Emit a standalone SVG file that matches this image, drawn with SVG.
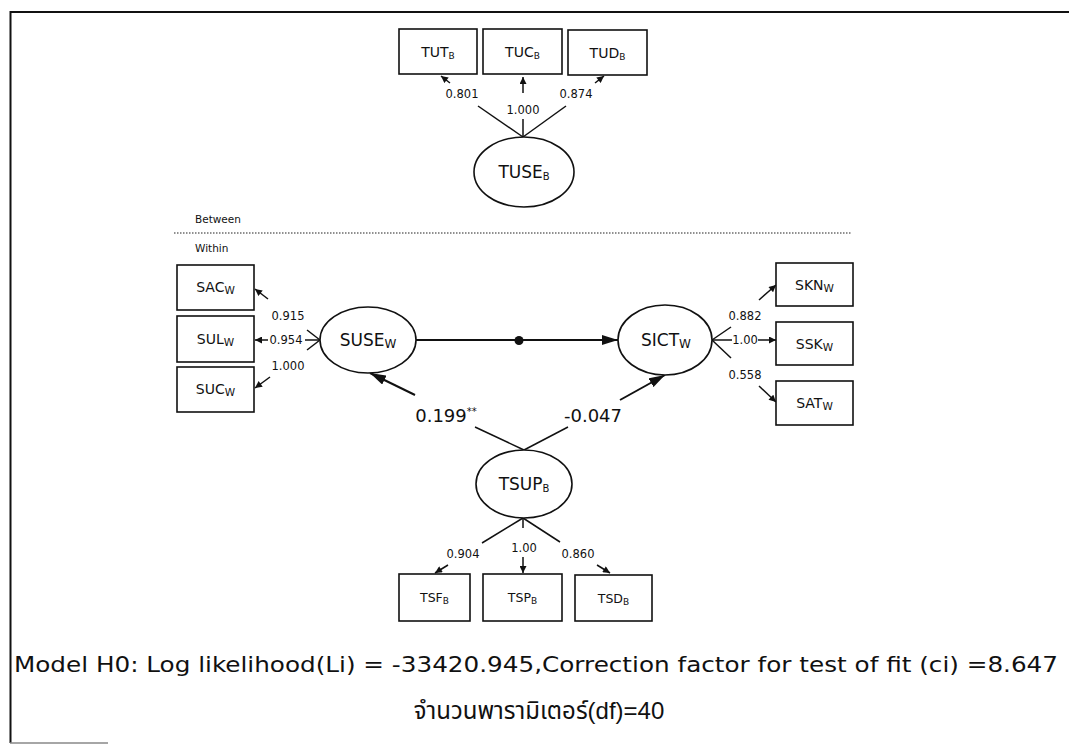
<svg xmlns="http://www.w3.org/2000/svg" width="1069" height="744" viewBox="0 0 1069 744">
  <style>
    text { font-family: "DejaVu Sans", "Liberation Sans", sans-serif; fill: #111; }
    .box { fill: #fff; stroke: #111; stroke-width: 1.6; }
    .lv { fill: #fff; stroke: #111; stroke-width: 1.6; }
    .bl { font-size: 14px; text-anchor: middle; }
    .bls { font-size: 12.5px; text-anchor: middle; }
    .el { font-size: 17px; text-anchor: middle; }
    .ld { font-size: 11.5px; text-anchor: middle; }
    .pl { font-size: 18px; text-anchor: middle; }
    .sub { font-size: 9px; }
    .subw { font-size: 10.5px; }
    .ln { stroke: #111; stroke-width: 1.5; fill: none; }
    .sa { stroke: #111; stroke-width: 1.5; fill: none; marker-end: url(#sm); }
    .ba { stroke: #111; stroke-width: 2; fill: none; marker-end: url(#lg); }
  </style>
  <defs>
    <marker id="sm" viewBox="0 0 10 10" refX="10" refY="5" markerWidth="8" markerHeight="7" markerUnits="userSpaceOnUse" orient="auto">
      <path d="M0,0 L10,5 L0,10 z" fill="#111"/>
    </marker>
    <marker id="lg" viewBox="0 0 16 10" refX="16" refY="5" markerWidth="16" markerHeight="10" markerUnits="userSpaceOnUse" orient="auto">
      <path d="M0,0 L16,5 L0,10 z" fill="#111"/>
    </marker>
  </defs>

  <rect width="1069" height="744" fill="#fff"/>

  <!-- frame -->
  <g id="frame">
    <path d="M10.5,743 L10.5,12 L1069,12" fill="none" stroke="#111" stroke-width="2"/>
    <line x1="10" y1="743" x2="108" y2="743" stroke="#888" stroke-width="1.5"/>
  </g>

  <!-- level divider -->
  <g id="levels">
    <text x="195" y="223" font-size="10.5px">Between</text>
    <line x1="174" y1="233" x2="852" y2="233" stroke="#222" stroke-width="1.2" stroke-dasharray="1.5 1.5"/>
    <text x="195" y="252" font-size="10.5px">Within</text>
  </g>

  <!-- connectors -->
  <g id="connectors">
    <!-- TUSE_B loadings -->
    <line class="ln" x1="523" y1="137" x2="478" y2="106"/>
    <line class="sa" x1="450" y1="83" x2="441" y2="76"/>
    <line class="ln" x1="523" y1="137" x2="523" y2="119"/>
    <line class="sa" x1="523" y1="93" x2="523" y2="77"/>
    <line class="ln" x1="523" y1="137" x2="566" y2="106"/>
    <line class="sa" x1="595" y1="83" x2="604" y2="76"/>

    <!-- SUSE_W loadings -->
    <line class="ln" x1="320" y1="340" x2="307" y2="330"/>
    <line class="sa" x1="268" y1="299" x2="255" y2="289"/>
    <line class="ln" x1="320" y1="340" x2="305" y2="340"/>
    <line class="sa" x1="268" y1="340" x2="255" y2="340"/>
    <line class="ln" x1="320" y1="340" x2="307" y2="350"/>
    <line class="sa" x1="270" y1="377" x2="255" y2="388"/>

    <!-- SUSE_W -> SICT_W -->
    <line class="ba" x1="416" y1="340" x2="618" y2="340"/>
    <circle cx="519" cy="340.5" r="4.5" fill="#111"/>

    <!-- SICT_W loadings -->
    <line class="ln" x1="712" y1="340" x2="731" y2="327"/>
    <line class="sa" x1="759" y1="300" x2="776" y2="285"/>
    <line class="ln" x1="712" y1="340" x2="732" y2="340"/>
    <line class="sa" x1="758" y1="340" x2="776" y2="340"/>
    <line class="ln" x1="712" y1="340" x2="731" y2="358"/>
    <line class="sa" x1="759" y1="386" x2="776" y2="402"/>

    <!-- TSUP_B structural paths -->
    <line class="ln" x1="524" y1="450" x2="475" y2="427"/>
    <line class="ba" x1="415" y1="395" x2="370" y2="373"/>
    <line class="ln" x1="524" y1="450" x2="568" y2="427"/>
    <line class="ba" x1="620" y1="400" x2="665" y2="375"/>

    <!-- TSUP_B loadings -->
    <line class="ln" x1="523" y1="518" x2="482" y2="543"/>
    <line class="sa" x1="448" y1="565" x2="435" y2="573"/>
    <line class="ln" x1="523" y1="518" x2="523" y2="528"/>
    <line class="sa" x1="523" y1="557" x2="523" y2="573"/>
    <line class="ln" x1="523" y1="518" x2="560" y2="542"/>
    <line class="sa" x1="597" y1="565" x2="610" y2="573"/>
  </g>

  <!-- path coefficients -->
  <g id="labels">
    <text class="ld" x="462" y="98">0.801</text>
    <text class="ld" x="523" y="114">1.000</text>
    <text class="ld" x="576" y="98">0.874</text>

    <text class="ld" x="288" y="320">0.915</text>
    <text class="ld" x="286" y="344">0.954</text>
    <text class="ld" x="288" y="370">1.000</text>

    <text class="ld" x="745" y="320">0.882</text>
    <text class="ld" x="745" y="344">1.00</text>
    <text class="ld" x="745" y="379">0.558</text>

    <text class="pl" x="446" y="422">0.199<tspan font-size="10px" dy="-7">**</tspan></text>
    <text class="pl" x="593" y="422">-0.047</text>

    <text class="ld" x="463" y="558">0.904</text>
    <text class="ld" x="524" y="552">1.00</text>
    <text class="ld" x="578" y="558">0.860</text>
  </g>

  <!-- between-level indicators -->
  <g id="TUT_B"><rect class="box" x="399" y="29" width="78" height="45"/><text class="bl" x="438" y="57">TUT<tspan class="sub" dy="1.5">B</tspan></text></g>
  <g id="TUC_B"><rect class="box" x="483" y="29" width="79" height="45"/><text class="bl" x="522.5" y="57">TUC<tspan class="sub" dy="1.5">B</tspan></text></g>
  <g id="TUD_B"><rect class="box" x="568" y="30" width="79" height="45"/><text class="bl" x="607.5" y="58">TUD<tspan class="sub" dy="1.5">B</tspan></text></g>
  <g id="TUSE_B"><ellipse class="lv" cx="524" cy="172" rx="50" ry="35"/><text class="el" x="524" y="178">TUSE<tspan font-size="10px" dy="1.5">B</tspan></text></g>

  <!-- within-level student use -->
  <g id="SAC_W"><rect class="box" x="177" y="265" width="77" height="45"/><text class="bl" x="215.5" y="292">SAC<tspan class="subw" dy="1.5">W</tspan></text></g>
  <g id="SUL_W"><rect class="box" x="177" y="316" width="77" height="46"/><text class="bl" x="215.5" y="344">SUL<tspan class="subw" dy="1.5">W</tspan></text></g>
  <g id="SUC_W"><rect class="box" x="177" y="367" width="77" height="45"/><text class="bl" x="215.5" y="394">SUC<tspan class="subw" dy="1.5">W</tspan></text></g>
  <g id="SUSE_W"><ellipse class="lv" cx="368" cy="340" rx="48" ry="33"/><text class="el" x="368" y="346">SUSE<tspan font-size="12px" dy="1.5">W</tspan></text></g>

  <!-- within-level ICT literacy -->
  <g id="SICT_W"><ellipse class="lv" cx="665" cy="340" rx="47" ry="35"/><text class="el" x="666" y="346">SICT<tspan font-size="12px" dy="1.5">W</tspan></text></g>
  <g id="SKN_W"><rect class="box" x="776" y="263" width="77" height="43"/><text class="bl" x="814.5" y="290">SKN<tspan class="subw" dy="1.5">W</tspan></text></g>
  <g id="SSK_W"><rect class="box" x="776" y="322" width="77" height="43"/><text class="bl" x="814.5" y="349">SSK<tspan class="subw" dy="1.5">W</tspan></text></g>
  <g id="SAT_W"><rect class="box" x="776" y="381" width="77" height="44"/><text class="bl" x="814.5" y="408">SAT<tspan class="subw" dy="1.5">W</tspan></text></g>

  <!-- between-level teacher support -->
  <g id="TSUP_B"><ellipse class="lv" cx="524" cy="484" rx="48" ry="34"/><text class="el" x="524" y="490">TSUP<tspan font-size="10px" dy="1.5">B</tspan></text></g>
  <g id="TSF_B"><rect class="box" x="399" y="574" width="71" height="47"/><text class="bls" x="434.5" y="602">TSF<tspan class="sub" dy="1.5">B</tspan></text></g>
  <g id="TSP_B"><rect class="box" x="483" y="574" width="79" height="47"/><text class="bls" x="522.5" y="602">TSP<tspan class="sub" dy="1.5">B</tspan></text></g>
  <g id="TSD_B"><rect class="box" x="575" y="575" width="77" height="46"/><text class="bls" x="613.5" y="603">TSD<tspan class="sub" dy="1.5">B</tspan></text></g>

  <!-- fit summary -->
  <g id="summary">
    <text x="14" y="672" font-size="21px" fill="#222" textLength="1044" lengthAdjust="spacingAndGlyphs">Model H0: Log likelihood(Li) = -33420.945,Correction factor for test of fit (ci) =8.647</text>
    <text x="539" y="719" font-size="24px" fill="#222" text-anchor="middle" style="font-family: 'Liberation Sans', 'Noto Sans Thai', 'Noto Sans', sans-serif">จำนวนพารามิเตอร์(df)=40</text>
  </g>
</svg>
